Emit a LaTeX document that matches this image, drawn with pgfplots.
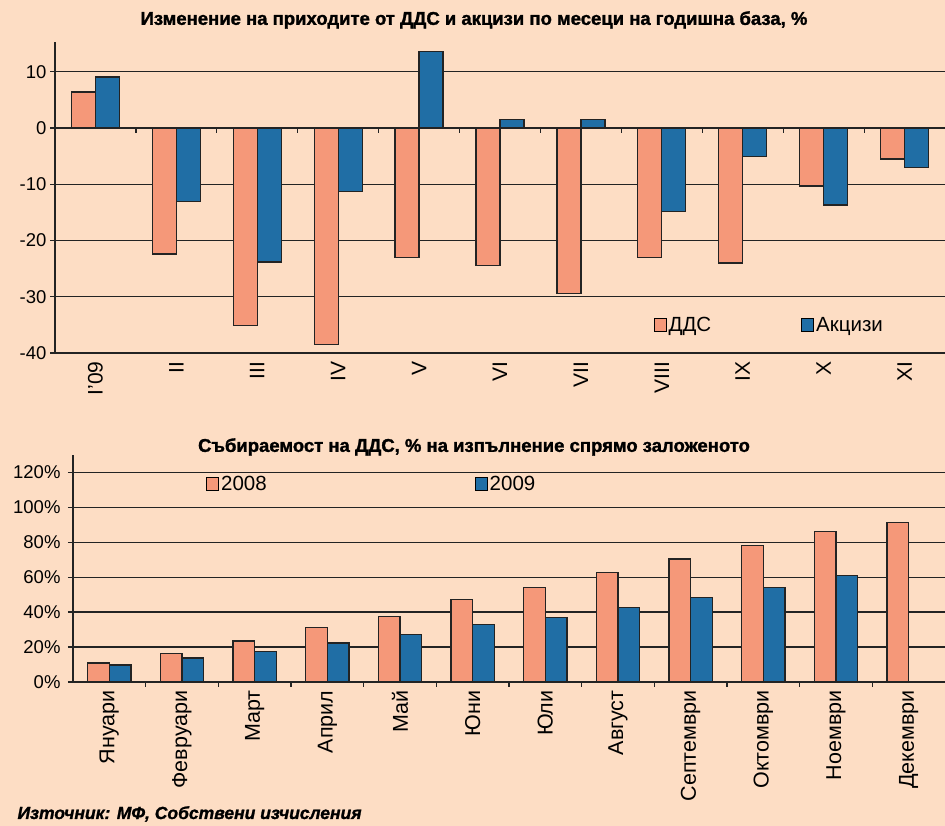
\documentclass[border=0pt]{standalone}
\usepackage{pgfplots}
\pgfplotsset{compat=1.18}
\usepackage{fontspec}
\setmainfont{Liberation Sans}
\newfontfamily\titlefont{Liberation Sans Bold}[FakeBold=1.5]
\newfontfamily\srcfont{Liberation Sans Bold Italic}[FakeBold=1.2]
\definecolor{bg}{RGB}{253,221,196}
\definecolor{orng}{RGB}{245,152,121}
\definecolor{blu}{RGB}{32,110,165}
\definecolor{gridc}{RGB}{35,35,35}
\pgfplotsset{
  common/.style={
    scale only axis, axis x line*=bottom, axis y line*=left,
    axis line style={-, line width=1.5pt, gridc},
    ymajorgrids, major grid style={line width=1.4pt, gridc},
    tick align=outside, major tick length=5pt,
    ytick style={line width=1.4pt, gridc},
    major x tick style={draw=none},
    minor x tick style={line width=1.2pt, gridc},
    x tick label style={rotate=90, anchor=east},
    y tick label style={font=\fontsize{18.5}{20}\selectfont},
    ybar=0pt,
    legend image code/.code={\draw[#1, draw=black, line width=1pt] (0pt,-6.5pt) rectangle (12pt,6.5pt);},
    legend style={draw=none, fill=none, legend columns=2, font=\fontsize{20.5}{22}\selectfont},
  },
  bo/.style={fill=orng, draw=gridc, line width=1.3pt},
  bb/.style={fill=blu, draw=gridc, line width=1.3pt},
}
\begin{document}
\begin{tikzpicture}[x=1pt,y=1pt]
\fill[bg] (0,0) rectangle (945,826);
\node[font=\titlefont\fontsize{18.5}{20}\selectfont] at (474,806) {Изменение на приходите от ДДС и акцизи по месеци на годишна база, \%};

\begin{axis}[common, at={(55pt,473pt)}, anchor=south west, width=890pt, height=311pt,
  xmin=-0.5, xmax=10.5, ymin=-40, ymax=15.3,
  ytick={-40,-30,-20,-10,0,10}, yticklabels={-40,-30,-20,-10,0,10},
  xtick={0,...,10}, xticklabels={I'09,II,III,IV,V,VI,VII,VIII,IX,X,XI},
  x tick label style={font=\fontsize{21}{22}\selectfont},
  bar width=24pt,
  legend style={at={(rel axis cs:0.669,0.09)}, anchor=west, /tikz/every even column/.append style={column sep=88pt}},
]
\addplot[bo] coordinates {(0,6.4) (1,-22.4) (2,-35.1) (3,-38.5) (4,-23.0) (5,-24.5) (6,-29.4) (7,-23.0) (8,-24.0) (9,-10.3) (10,-5.5)};
\addlegendentry{ДДС}
\addplot[bb] coordinates {(0,9.1) (1,-13.1) (2,-23.8) (3,-11.3) (4,13.6) (5,1.5) (6,1.5) (7,-14.9) (8,-5.1) (9,-13.7) (10,-7.0)};
\addlegendentry{Акцизи}
\pgfplotsinvokeforeach{0.5,1.5,...,9.5}{\draw[gridc, line width=1.2pt] (axis cs:#1,0) -- ([yshift=-5pt]axis cs:#1,0);}
\end{axis}

\node[font=\titlefont\fontsize{18.5}{20}\selectfont] at (474,379) {Събираемост на ДДС, \% на изпълнение спрямо заложеното};

\begin{axis}[common, at={(73pt,144pt)}, anchor=south west, width=872pt, height=227pt,
  xmin=-0.5, xmax=11.5, ymin=0, ymax=130,
  ytick={0,20,...,120}, yticklabels={0\%,20\%,40\%,60\%,80\%,100\%,120\%},
  y tick label style={xshift=-4pt},
  xtick={0,...,11}, xticklabels={Януари,Февруари,Март,Април,Май,Юни,Юли,Август,Септември,Октомври,Ноември,Декември},
  minor xtick={0.5,1.5,...,10.5}, minor tick length=5pt,
  x tick label style={font=\fontsize{21.5}{23}\selectfont},
  bar width=21.7pt,
  legend style={at={(rel axis cs:0.149,0.872)}, anchor=west, /tikz/every even column/.append style={column sep=206pt}},
]
\addplot[bo] coordinates {(0,10.8) (1,16.5) (2,23.5) (3,31.3) (4,37.7) (5,47.4) (6,54.0) (7,62.9) (8,70.5) (9,78.3) (10,86.3) (11,91.2)};
\addlegendentry{2008}
\addplot[bb] coordinates {(0,9.7) (1,13.8) (2,17.6) (3,22.4) (4,27.1) (5,33.0) (6,37.0) (7,42.7) (8,48.5) (9,54.0) (10,61.0)};
\addlegendentry{2009}
\end{axis}

\node[anchor=base west, font=\srcfont\fontsize{17.5}{19}\selectfont] at (14,7) {Източник: МФ, Собствени изчисления};
\pgfresetboundingbox
\useasboundingbox (0,0) rectangle (945,826);
\end{tikzpicture}
\end{document}
